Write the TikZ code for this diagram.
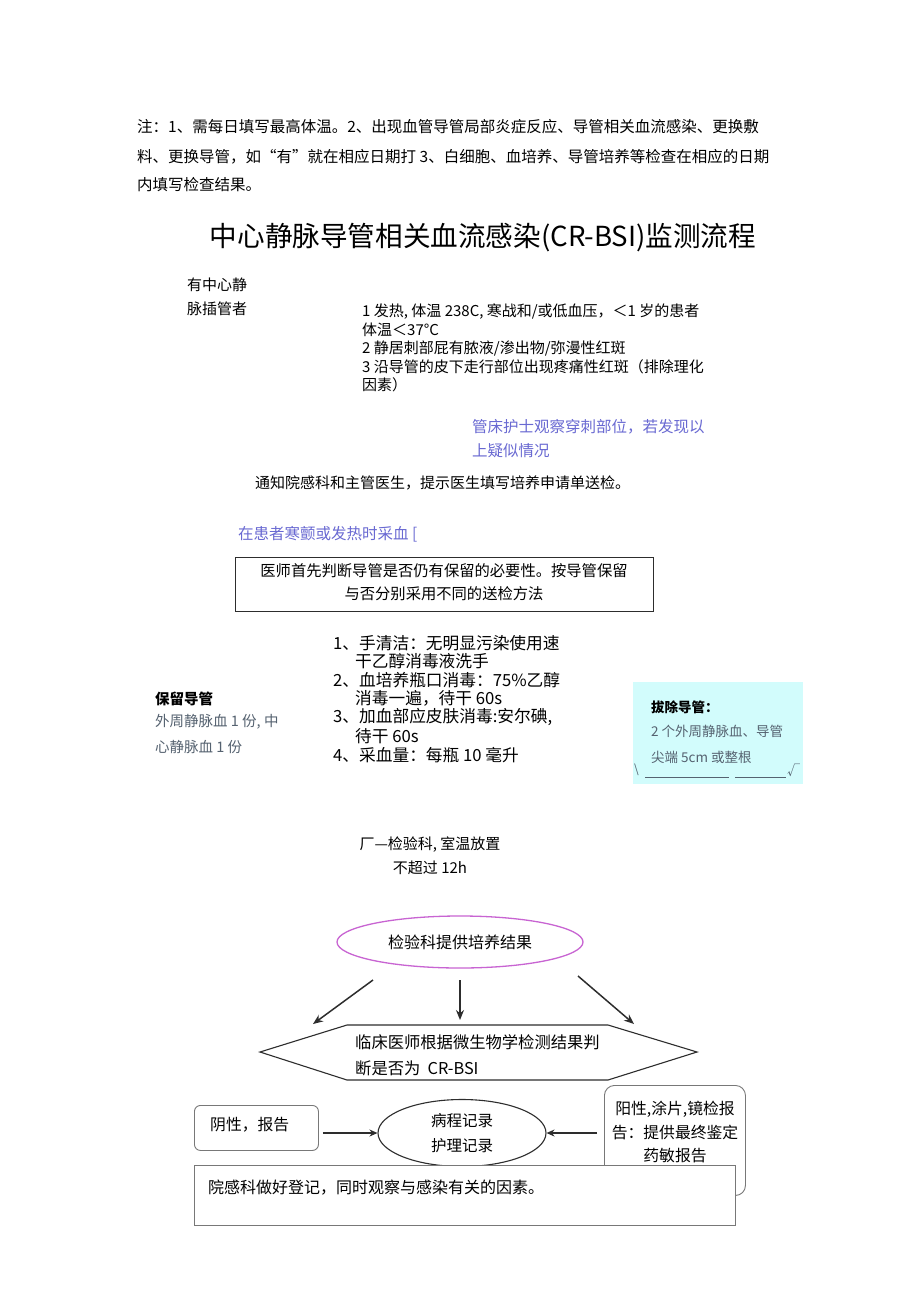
\documentclass[tikz,border=0pt]{standalone}
\usepackage{fontspec}
\setmainfont{Noto Sans CJK SC}
\usetikzlibrary{shapes.geometric,arrows.meta}
\definecolor{bluetxt}{RGB}{105,105,210}
\definecolor{graytxt}{RGB}{85,98,112}
\definecolor{cyanfill}{RGB}{210,252,252}
\definecolor{magline}{RGB}{200,100,210}
\definecolor{darkline}{RGB}{45,45,45}
\definecolor{boxline}{RGB}{120,120,120}
\begin{document}
\begin{tikzpicture}[x=1pt,y=-1pt,
  txt/.style={anchor=west,inner sep=0pt,font=\fontsize{15.5}{18}\selectfont},
  crit/.style={anchor=west,inner sep=0pt,font=\fontsize{15}{18}\selectfont},
  lst/.style={anchor=west,inner sep=0pt,font=\fontsize{16.7}{18}\selectfont},
  small/.style={anchor=west,inner sep=0pt,font=\fontsize{13.5}{16}\selectfont,text=graytxt},
  arr/.style={draw=darkline,line width=1.5pt,-{Stealth[length=10pt,width=8pt]}},
  arrs/.style={draw=darkline,line width=1.3pt,-{Stealth[length=8pt,width=7pt]}}]
\useasboundingbox (0,0) rectangle (920,1301);
\fill[white] (0,0) rectangle (920,1301);

% note
\node[txt] (n1) at (137,127) {注：1、需每日填写最高体温。2、出现血管导管局部炎症反应、导管相关血流感染、更换敷};
\node[txt] (n2) at (137,157) {料、更换导管，如“有”就在相应日期打 3、白细胞、血培养、导管培养等检查在相应的日期};
\node[txt] (n3) at (137,185) {内填写检查结果。};

% title
\node[inner sep=0pt,font=\fontsize{27.6}{30}\selectfont] (title) at (483,238) {中心静脉导管相关血流感染(CR-BSI)监测流程};

% patient
\node[txt,font=\fontsize{15}{18}\selectfont] (p1) at (187,285) {有中心静};
\node[txt,font=\fontsize{15}{18}\selectfont] (p2) at (187,309) {脉插管者};

% criteria
\node[crit] (c1) at (362,312) {1 发热, 体温 238C, 寒战和/或低血压，＜1 岁的患者};
\node[crit] (c2) at (362,330) {体温＜37°C};
\node[crit] (c3) at (362,349) {2 静居刺部屁有脓液/渗出物/弥漫性红斑};
\node[crit] (c4) at (362,367) {3 沿导管的皮下走行部位出现疼痛性红斑（排除理化};
\node[crit] (c5) at (362,385) {因素）};

% nurse
\node[txt,text=bluetxt] (b1) at (472,427) {管床护士观察穿刺部位，若发现以};
\node[txt,text=bluetxt] (b2) at (472,451) {上疑似情况};

\node[txt,font=\fontsize{15}{18}\selectfont] (notify) at (255,483) {通知院感科和主管医生，提示医生填写培养申请单送检。};

\node[txt,text=bluetxt] (draw1) at (238,534) {在患者寒颤或发热时采血 [};

% decision box
\node[draw=darkline,line width=0.9pt,minimum width=418,minimum height=54,inner sep=0pt] (judge) at (444,584) {};
\node[inner sep=0pt,font=\fontsize{15.3}{23}\selectfont,align=center] (judget) at (444,582) {医师首先判断导管是否仍有保留的必要性。按导管保留\\与否分别采用不同的送检方法};

% steps
\node[lst] (s1) at (333,643) {1、手清洁：无明显污染使用速};
\node[lst] (s1b) at (355,661) {干乙醇消毒液洗手};
\node[lst] (s2) at (333,680) {2、血培养瓶口消毒：75\%乙醇};
\node[lst] (s2b) at (355,698) {消毒一遍，待干 60s};
\node[lst] (s3) at (333,717) {3、加血部应皮肤消毒:安尔碘,};
\node[lst] (s3b) at (355,736) {待干 60s};
\node[lst] (s4) at (333,755) {4、采血量：每瓶 10 毫升};

% keep catheter
\node[txt,font=\bfseries\fontsize{14.5}{18}\selectfont] (keep) at (155,699) {保留导管};
\node[txt,font=\fontsize{14.5}{18}\selectfont,text=graytxt] (keep1) at (155,722) {外周静脉血 1 份, 中};
\node[txt,font=\fontsize{14.5}{18}\selectfont,text=graytxt] (keep2) at (155,747) {心静脉血 1 份};

% remove catheter
\node[fill=cyanfill,minimum width=170,minimum height=102,inner sep=0pt,anchor=north west] (rbox) at (633,682) {};
\node[anchor=west,inner sep=0pt,font=\bfseries\fontsize{13.5}{16}\selectfont] (rm) at (651,707) {拔除导管：};
\node[small] (rm1) at (651,731) {2 个外周静脉血、导管};
\node[small] (rm2) at (651,757) {尖端 5cm 或整根};
\node[anchor=west,inner sep=0pt,font=\fontsize{12}{14}\selectfont,text=graytxt] (rmL) at (634,770) {\textbackslash};
\node[anchor=west,inner sep=0pt,font=\fontsize{13}{14}\selectfont,text=graytxt] (rmR) at (787,770) {√};
\draw[graytxt,line width=0.8pt] (645,777) -- (729,777) (735,777) -- (786,777);

% lab
\node[inner sep=0pt,font=\fontsize{15}{18}\selectfont] (lab1) at (430,845) {厂—检验科, 室温放置};
\node[inner sep=0pt,font=\fontsize{15}{18}\selectfont] (lab2) at (430,868) {不超过 12h};

% result ellipse
\node[ellipse,draw=magline,line width=1.3pt,minimum width=246,minimum height=52,inner sep=0pt,font=\fontsize{16}{18}\selectfont] (res) at (460,942) {检验科提供培养结果};

% hexagon
\coordinate (hA) at (260,1052);
\coordinate (hB) at (347,1025);
\coordinate (hC) at (608,1025);
\coordinate (hD) at (697,1052);
\coordinate (hE) at (608,1080);
\coordinate (hF) at (347,1080);
\draw[darkline,line width=1.1pt] (hA) -- (hB) -- (hC) -- (hD) -- (hE) -- (hF) -- cycle;
\node[inner sep=0pt,font=\fontsize{16.3}{26}\selectfont,align=left,anchor=west] (hext) at (355,1055) {临床医师根据微生物学检测结果判\\断是否为\ \ CR-BSI};

% arrows from result
\coordinate (a1s) at (373,980);
\coordinate (a1e) at (313,1024);
\coordinate (a2s) at (460,980);
\coordinate (a2e) at (460,1020);
\coordinate (a3s) at (578,976);
\coordinate (a3e) at (634,1024);
\draw[arr] (a1s) -- (a1e);
\draw[arr] (a2s) -- (a2e);
\draw[arr] (a3s) -- (a3e);

% negative
\node[draw=boxline,line width=0.9pt,rounded corners=6pt,minimum width=124,minimum height=45,inner sep=0pt,anchor=north west] (neg) at (194,1105) {};
\node[anchor=west,inner sep=0pt,font=\fontsize{15.8}{18}\selectfont] (negt) at (210,1125) {阴性，报告};

% positive
\node[draw=boxline,line width=0.9pt,rounded corners=10pt,minimum width=141,minimum height=110,inner sep=0pt,anchor=north west] (pos) at (604,1085) {};
\node[inner sep=0pt,font=\fontsize{15.8}{23.5}\selectfont,align=center] (post) at (675,1132) {阳性,涂片,镜检报\\告：提供最终鉴定\\药敏报告};

% record ellipse
\node[ellipse,draw=darkline,line width=1.1pt,minimum width=168,minimum height=67,inner sep=0pt,font=\fontsize{15.5}{25}\selectfont,align=center] (rec) at (462,1133) {病程记录\\护理记录};

\draw[arrs] ([xshift=4pt]neg.east |- rec.west) -- (rec.west);
\draw[arrs] ([xshift=-7pt]pos.west |- rec.east) -- (rec.east);

% bottom box
\node[draw=boxline,fill=white,line width=0.9pt,minimum width=541,minimum height=60,inner sep=0pt,anchor=north west] (reg) at (194,1165) {};
\node[anchor=west,inner sep=0pt,font=\fontsize{16}{18}\selectfont] (regt) at (208,1188) {院感科做好登记，同时观察与感染有关的因素。};
\end{tikzpicture}
\end{document}
